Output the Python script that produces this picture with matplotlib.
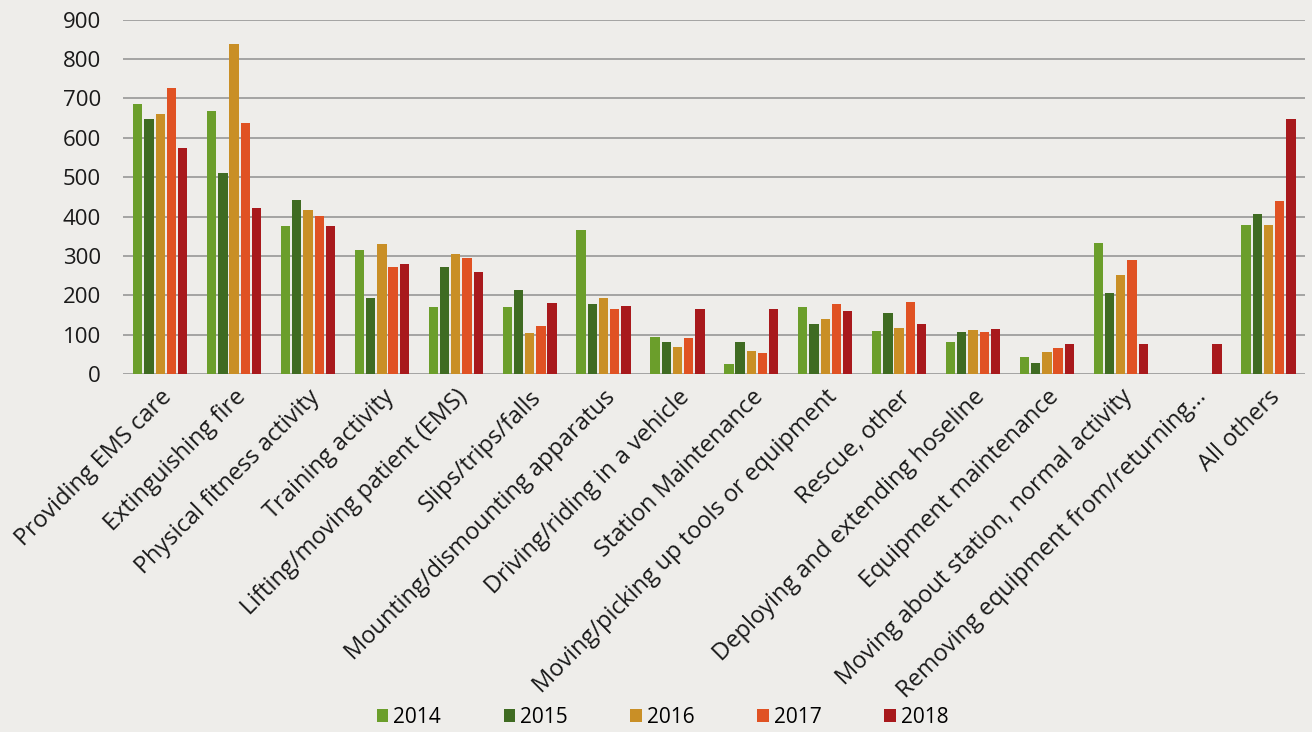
import matplotlib.pyplot as plt
import numpy as np

plt.rcParams['font.family'] = ['Open Sans', 'DejaVu Sans']

categories = [
    'Providing EMS care', 'Extinguishing fire', 'Physical fitness activity',
    'Training activity', 'Lifting/moving patient (EMS)', 'Slips/trips/falls',
    'Mounting/dismounting apparatus', 'Driving/riding in a vehicle',
    'Station Maintenance', 'Moving/picking up tools or equipment',
    'Rescue, other', 'Deploying and extending hoseline',
    'Equipment maintenance', 'Moving about station, normal activity',
    'Removing equipment from/returning...', 'All others',
]
years = ['2014', '2015', '2016', '2017', '2018']

v2014 = [686, 669, 375, 316, 170, 170, 366, 93, 25, 171, 110, 82, 43, 334, 0, 378]
v2015 = [649, 512, 441, 193, 273, 213, 179, 81, 81, 126, 154, 108, 29, 205, 0, 406]
v2016 = [660, 838, 418, 330, 305, 105, 192, 69, 59, 140, 118, 112, 57, 252, 0, 379]
v2017 = [727, 638, 401, 272, 294, 121, 166, 91, 54, 178, 183, 106, 65, 289, 0, 440]
v2018 = [575, 422, 375, 279, 258, 181, 173, 166, 166, 161, 126, 114, 77, 77, 76, 649]

colors = ['#6b9e2b', '#3f6b22', '#c98f26', '#e05223', '#a8191c']
bg = '#eeedea'

fig = plt.figure(figsize=(13.12, 7.32), dpi=100, facecolor=bg)
ax = fig.add_axes([0.094, 0.489, 0.901, 0.484], facecolor=bg)

x = np.arange(len(categories))
pitch = 0.152
width = 0.126
series = [v2014, v2015, v2016, v2017, v2018]
for i, (vals, c, yr) in enumerate(zip(series, colors, years)):
    ax.bar(x + (i - 2) * pitch, vals, width, color=c, label=yr, zorder=3)

ax.set_xlim(-0.5, len(categories) - 0.5)
ax.set_ylim(0, 900)
ax.set_yticks(range(0, 901, 100))
ax.yaxis.grid(True, color='#a3a3a3', linewidth=1.4, zorder=0)
for s in ax.spines.values():
    s.set_visible(False)
ax.tick_params(axis='y', length=0, pad=16, labelsize=16, labelcolor='#1a1a1a')
ax.tick_params(axis='x', length=0, pad=8)
ax.set_xticks(x)
ax.set_xticklabels(categories, rotation=45, ha='right', rotation_mode='anchor',
                   fontsize=17, color='#1a1a1a')

fig.legend(loc='center', bbox_to_anchor=(0.505, 0.02), ncol=5, frameon=False,
           fontsize=15, handlelength=0.55, handleheight=0.55, handletextpad=0.25,
           columnspacing=3.0)

fig.savefig('out.png', dpi=100, facecolor=bg)
